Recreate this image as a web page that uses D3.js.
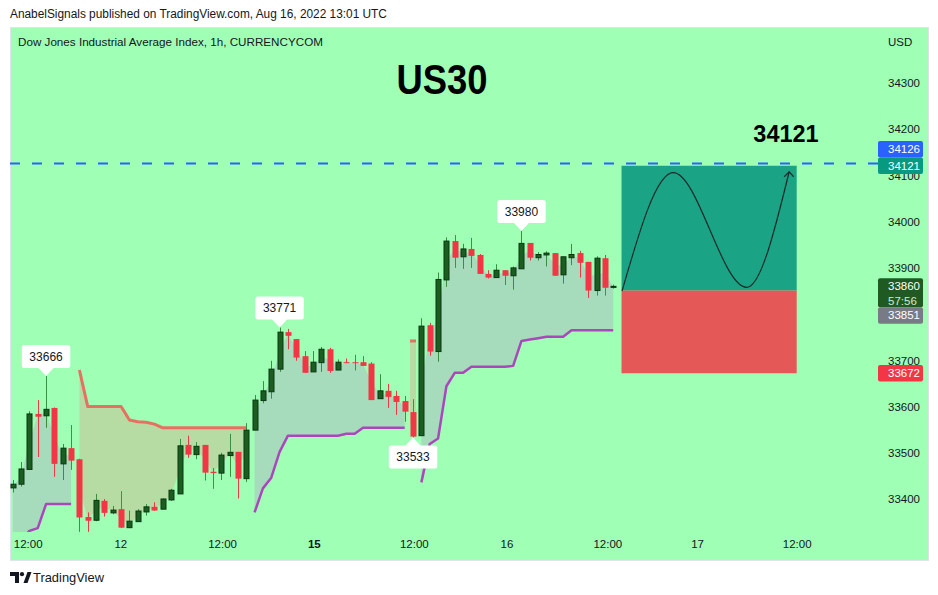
<!DOCTYPE html>
<html><head><meta charset="utf-8">
<script src="https://cdnjs.cloudflare.com/ajax/libs/d3/7.8.5/d3.min.js"></script>
<style>html,body{margin:0;padding:0;background:#fff;} svg{display:block;font-family:"Liberation Sans",Arial,sans-serif;}</style>
</head><body><svg id="c" width="938" height="595"></svg>
<script>
// ---- data (hourly bars, index 0..72) ----
const opens  = [33424,33432,33464,33584,33580,33597,33476,33510,33486,33361,33354,33396,33370,33378,33338,33351,33372,33383,33378,33398,33411,33517,33496,33517,33459,33456,33494,33502,33444,33549,33613,33632,33681,33761,33746,33709,33675,33695,33724,33679,33696,33696,33696,33693,33617,33634,33623,33612,33588,33537,33776,33719,33874,33958,33924,33941,33928,33887,33879,33895,33883,33898,33954,33922,33928,33932,33885,33922,33932,33913,33851,33921,33859];
const highs  = [33441,33480,33590,33614,33666,33598,33519,33560,33487,33371,33411,33400,33385,33417,33375,33378,33389,33393,33402,33422,33530,33537,33523,33517,33467,33500,33541,33502,33564,33625,33655,33699,33771,33768,33746,33720,33720,33729,33727,33702,33704,33712,33709,33696,33670,33649,33634,33623,33616,33791,33781,33890,33966,33971,33952,33965,33930,33895,33908,33895,33903,33980,33954,33934,33936,33932,33925,33952,33937,33913,33925,33928,33864];
const lows   = [33414,33427,33463,33491,33554,33448,33441,33463,33329,33329,33352,33362,33367,33337,33337,33351,33364,33375,33378,33396,33411,33489,33486,33440,33422,33441,33448,33401,33437,33549,33607,33617,33675,33724,33699,33673,33675,33675,33673,33679,33694,33678,33688,33614,33617,33597,33582,33567,33533,33537,33710,33697,33859,33900,33898,33900,33887,33877,33879,33863,33853,33898,33916,33916,33903,33883,33866,33906,33879,33835,33840,33840,33855];
const closes = [33432,33465,33584,33578,33594,33476,33510,33483,33360,33353,33397,33370,33376,33338,33352,33374,33383,33375,33400,33419,33515,33496,33514,33457,33456,33495,33501,33444,33549,33614,33634,33681,33761,33753,33706,33673,33696,33724,33677,33696,33694,33694,33688,33614,33634,33621,33610,33589,33535,33774,33719,33875,33958,33922,33941,33926,33887,33879,33895,33883,33900,33953,33922,33929,33932,33883,33924,33929,33911,33851,33921,33857,33860];
// SuperTrend up-line (null when in downtrend) and down-line (null when in uptrend)
const stUp = [33290,33310,33331,33337,33389,33389,33389,33389,
  null,null,null,null,null,null,null,null,null,null,null,null,null,null,null,null,null,null,null,null,null,
  33371,33423,33446,33502,33537,33537,33537,33537,33537,33537,33537,33541,33541,33554,33554,33554,33554,33554,33554,
  null,
  33436,33519,33531,33644,33673,33673,33686,33686,33686,33686,33686,33688,33742,33745,33748,33751,33751,33751,33765,33765,33765,33765,33765,33765];
const stDown = [null,null,null,null,null,null,null,null,
  33679,33600,33600,33600,33600,33600,33571,33567,33566,33562,33554,33554,33554,33554,33554,33554,33554,33554,33554,33554,33554,
  null,null,null,null,null,null,null,null,null,null,null,null,null,null,null,null,null,null,null,
  33742,
  null,null,null,null,null,null,null,null,null,null,null,null,null,null,null,null,null,null,null,null,null,null,null,null];
const pivotHighs = [4, 32, 61];
const pivotLows = [48];
const priceTicks = [33400,33500,33600,33700,33800,33900,34000,34100,34200,34300];
const timeTickPos = [1.8, 12.9, 25.1, 36.1, 48.1, 59.2, 71.3, 82.05, 94.0];
const timeTickLabels = ["12:00","12","12:00","15","12:00","16","12:00","17","12:00"];
const boldTimeLabels = ["15"];
const lineLevel = 34126;
const entryPrice = 33851, targetPrice = 34121, stopPrice = 33672, lastPrice = 33860;
const countdown = "57:56";
const positionBars = [73, 94];
const sketchCurve = [[73.06,33850],[79.2,34106],[88.0,33858],[93.1,34108]];

// ---- setup ----
const svg = d3.select("#c");
const x = d3.scaleLinear().domain([0,72]).range([12.7,613.2]);
const y = d3.scaleLinear().domain([33400,34300]).range([499,83]);
const plot = {x0:10, x1:872, y0:28, y1:532};
const BG = "#9fffb5";

svg.append("rect").attr("x",10.5).attr("y",27.5).attr("width",918).attr("height",533)
  .attr("fill",BG).attr("stroke","#e0e3eb");
svg.append("defs").append("clipPath").attr("id","clip").append("rect")
  .attr("x",plot.x0).attr("y",plot.y0).attr("width",plot.x1-plot.x0).attr("height",plot.y1-plot.y0);

function fitText(sel, width){
  const n = sel.node(); const w = n.getComputedTextLength();
  const fs = parseFloat(sel.attr("font-size"));
  sel.attr("font-size", (fs*width/w).toFixed(2));
}

// header
fitText(svg.append("text").attr("x",10).attr("y",18).attr("font-size",12.5).attr("fill","#131722")
  .text("AnabelSignals published on TradingView.com, Aug 16, 2022 13:01 UTC"), 377);
fitText(svg.append("text").attr("x",18).attr("y",46).attr("font-size",12).attr("fill","#131722")
  .text("Dow Jones Industrial Average Index, 1h, CURRENCYCOM"), 305);
svg.append("text").attr("x",888).attr("y",45.5).attr("font-size",11.5).attr("fill","#131722").text("USD");

// axes
const yAxis = svg.append("g").attr("transform","translate(888,0)")
  .call(d3.axisRight(y).tickValues(priceTicks).tickSize(0).tickPadding(0).tickFormat(d3.format("d")));
yAxis.select(".domain").remove();
yAxis.selectAll("text").attr("font-size",11.5).attr("fill","#131722").attr("font-family","Liberation Sans, Arial, sans-serif");

const xAxis = svg.append("g").attr("transform","translate(0,540)")
  .call(d3.axisBottom(x).tickValues(timeTickPos).tickSize(0).tickPadding(0).tickFormat((d,i)=>timeTickLabels[i]));
xAxis.select(".domain").remove();
xAxis.selectAll("text").attr("font-size",11.5).attr("fill","#131722").attr("font-family","Liberation Sans, Arial, sans-serif")
  .attr("font-weight",(d,i)=>boldTimeLabels.includes(timeTickLabels[i])?"bold":"normal");

// plot group
const g = svg.append("g").attr("clip-path","url(#clip)");
const mid = opens.map((o,i)=>(o+closes[i])/2);
function runs(arr){ const out=[]; let cur=null; arr.forEach((v,i)=>{ if(v==null){ if(cur){out.push(cur);cur=null;} } else { if(!cur) cur=[]; cur.push(i);} }); if(cur) out.push(cur); return out; }

function drawTrend(arr, fillCol, lineCol, lw, op){
  runs(arr).forEach(seg=>{
    if(seg.length>1){
      g.append("path").datum(seg).attr("fill",fillCol)
        .attr("d", d3.area().x(i=>x(i)).y0(i=>y(arr[i])).y1(i=>y(mid[i])));
      g.append("path").datum(seg).attr("fill","none").attr("stroke",lineCol).attr("stroke-width",lw).attr("opacity",op)
        .attr("stroke-linejoin","round")
        .attr("d", d3.line().x(i=>x(i)).y(i=>y(arr[i])));
    } else {
      const i = seg[0];
      g.append("rect").attr("x",x(i)-3).attr("width",6).attr("y",y(arr[i])).attr("height",y(mid[i])-y(arr[i])).attr("fill",fillCol);
      g.append("line").attr("x1",x(i)-3).attr("x2",x(i)+3).attr("y1",y(arr[i])).attr("y2",y(arr[i]))
        .attr("stroke",lineCol).attr("stroke-width",lw).attr("opacity",op);
    }
  });
}
drawTrend(stUp, "#a6dcbb", "#ab47bc", 2.5, 1);
drawTrend(stDown, "#b6dca3", "#f05a55", 3, 0.85);

// candles
const candles = d3.range(opens.length).map(i=>({i,o:opens[i],h:highs[i],l:lows[i],c:closes[i]}));
const UP_BODY="#1b5e20", UP_BORDER="#0b3613", UP_WICK="#3a8f3d", DOWN="#f23645";
g.selectAll("line.wick").data(candles).join("line").attr("class","wick")
  .attr("x1",d=>Math.round(x(d.i))+0.5).attr("x2",d=>Math.round(x(d.i))+0.5)
  .attr("y1",d=>y(d.h)).attr("y2",d=>y(d.l))
  .attr("stroke",d=>d.c>=d.o?UP_WICK:DOWN).attr("stroke-width",1);
g.selectAll("rect.body").data(candles).join("rect").attr("class","body")
  .attr("x",d=>d.c>=d.o?Math.round(x(d.i))-2:Math.round(x(d.i))-2.5)
  .attr("width",d=>d.c>=d.o?5:6)
  .attr("y",d=>y(Math.max(d.o,d.c)))
  .attr("height",d=>Math.max(1,Math.abs(y(d.o)-y(d.c))))
  .attr("fill",d=>d.c>=d.o?UP_BODY:DOWN)
  .attr("stroke",d=>d.c>=d.o?UP_BORDER:"none").attr("stroke-width",1);

// pivot labels
function pivotLabel(i, val, isHigh){
  const cx = x(i), tip = y(val);
  const bw=48.5, bh=23, th=8;
  const top = isHigh ? tip-th-bh : tip+th;
  const lg = svg.append("g");
  lg.append("rect").attr("x",cx-bw/2).attr("y",top).attr("width",bw).attr("height",bh).attr("rx",2.5).attr("fill","#fff");
  const by = isHigh ? top+bh : top;
  lg.append("path").attr("fill","#fff")
    .attr("d",`M${cx-8},${by+(isHigh?-0.5:0.5)} L${cx},${tip} L${cx+8},${by+(isHigh?-0.5:0.5)} Z`);
  lg.append("text").attr("x",cx).attr("y",top+bh/2).attr("dy","0.35em").attr("text-anchor","middle")
    .attr("font-size",12).attr("fill","#131722").text(val);
}
pivotHighs.forEach(i=>pivotLabel(i, highs[i], true));
pivotLows.forEach(i=>pivotLabel(i, lows[i], false));

// horizontal dashed level
svg.append("line").attr("x1",10).attr("x2",878).attr("y1",y(lineLevel)).attr("y2",y(lineLevel))
  .attr("stroke","#2962ff").attr("stroke-width",2).attr("stroke-dasharray","10,12");

// long position tool
svg.append("rect").attr("x",x(positionBars[0])).attr("width",x(positionBars[1])-x(positionBars[0]))
  .attr("y",y(targetPrice)).attr("height",y(entryPrice)-y(targetPrice)).attr("fill","#1aa385");
svg.append("rect").attr("x",x(positionBars[0])).attr("width",x(positionBars[1])-x(positionBars[0]))
  .attr("y",y(entryPrice)).attr("height",y(stopPrice)-y(entryPrice)).attr("fill","#e45858");

// sketch curve with arrow
svg.append("path").datum(sketchCurve).attr("fill","none").attr("stroke","#1a2a2a").attr("stroke-width",1.2)
  .attr("d", d3.line().x(d=>x(d[0])).y(d=>y(d[1])).curve(d3.curveMonotoneX));
const tipP = sketchCurve[sketchCurve.length-1];
const tx = x(tipP[0]), ty = y(tipP[1]);
svg.append("path").attr("fill","none").attr("stroke","#1a2a2a").attr("stroke-width",1.2)
  .attr("d",`M${tx-5},${ty+5} L${tx},${ty} L${tx+4.5},${ty+5}`);

// titles
svg.append("text").attr("x",442).attr("y",94).attr("text-anchor","middle").attr("font-size",42).attr("font-weight","bold")
  .attr("fill","#000").attr("textLength",91).attr("lengthAdjust","spacingAndGlyphs").text("US30");
svg.append("text").attr("x",786).attr("y",142).attr("text-anchor","middle").attr("font-size",23.5).attr("font-weight","bold")
  .attr("fill","#000").text(targetPrice);

// right price labels with collision handling
const BH = 16.5;
const fixed = [
  {price:lastPrice, lines:[String(lastPrice), countdown], col:"#1e5a22"},
  {price:targetPrice, lines:[String(targetPrice)], col:"#089981"},
  {price:stopPrice, lines:[String(stopPrice)], col:"#f23645"}
];
const movable = [
  {price:lineLevel, lines:[String(lineLevel)], col:"#2962ff"},
  {price:entryPrice, lines:[String(entryPrice)], col:"#787b86"}
];
const placed = [];
fixed.forEach(b=>{ b.top = y(b.price)-BH/2; b.h = b.lines.length===1?BH:29; placed.push(b); });
movable.forEach(b=>{
  b.h = BH; b.top = y(b.price)-BH/2;
  placed.forEach(p=>{
    if(b.top < p.top+p.h && b.top+b.h > p.top){
      if(b.price > p.price) b.top = p.top - b.h; else b.top = p.top + p.h;
    }
  });
  placed.push(b);
});
placed.forEach(b=>{
  svg.append("rect").attr("x",878).attr("y",b.top).attr("width",45).attr("height",b.h).attr("rx",2).attr("fill",b.col);
  b.lines.forEach((t,k)=>{
    svg.append("text").attr("x",888).attr("y",b.top+BH/2+k*14.5).attr("dy","0.35em").attr("font-size",11.5)
      .attr("fill",k===0?"#ffffff":"#d5e6d6").text(t);
  });
});

// footer logo
const lg = svg.append("g").attr("fill","#131722");
lg.append("path").attr("d","M10,572 H19 V583 H15 V576 H10 Z");
lg.append("circle").attr("cx",22).attr("cy",574.2).attr("r",2.1);
lg.append("path").attr("d","M23.5,583 L27.5,572 H31.5 L27.5,583 Z");
fitText(svg.append("text").attr("x",33).attr("y",582).attr("font-size",12.5).attr("fill","#131722").text("TradingView"), 71);
</script></body></html>
